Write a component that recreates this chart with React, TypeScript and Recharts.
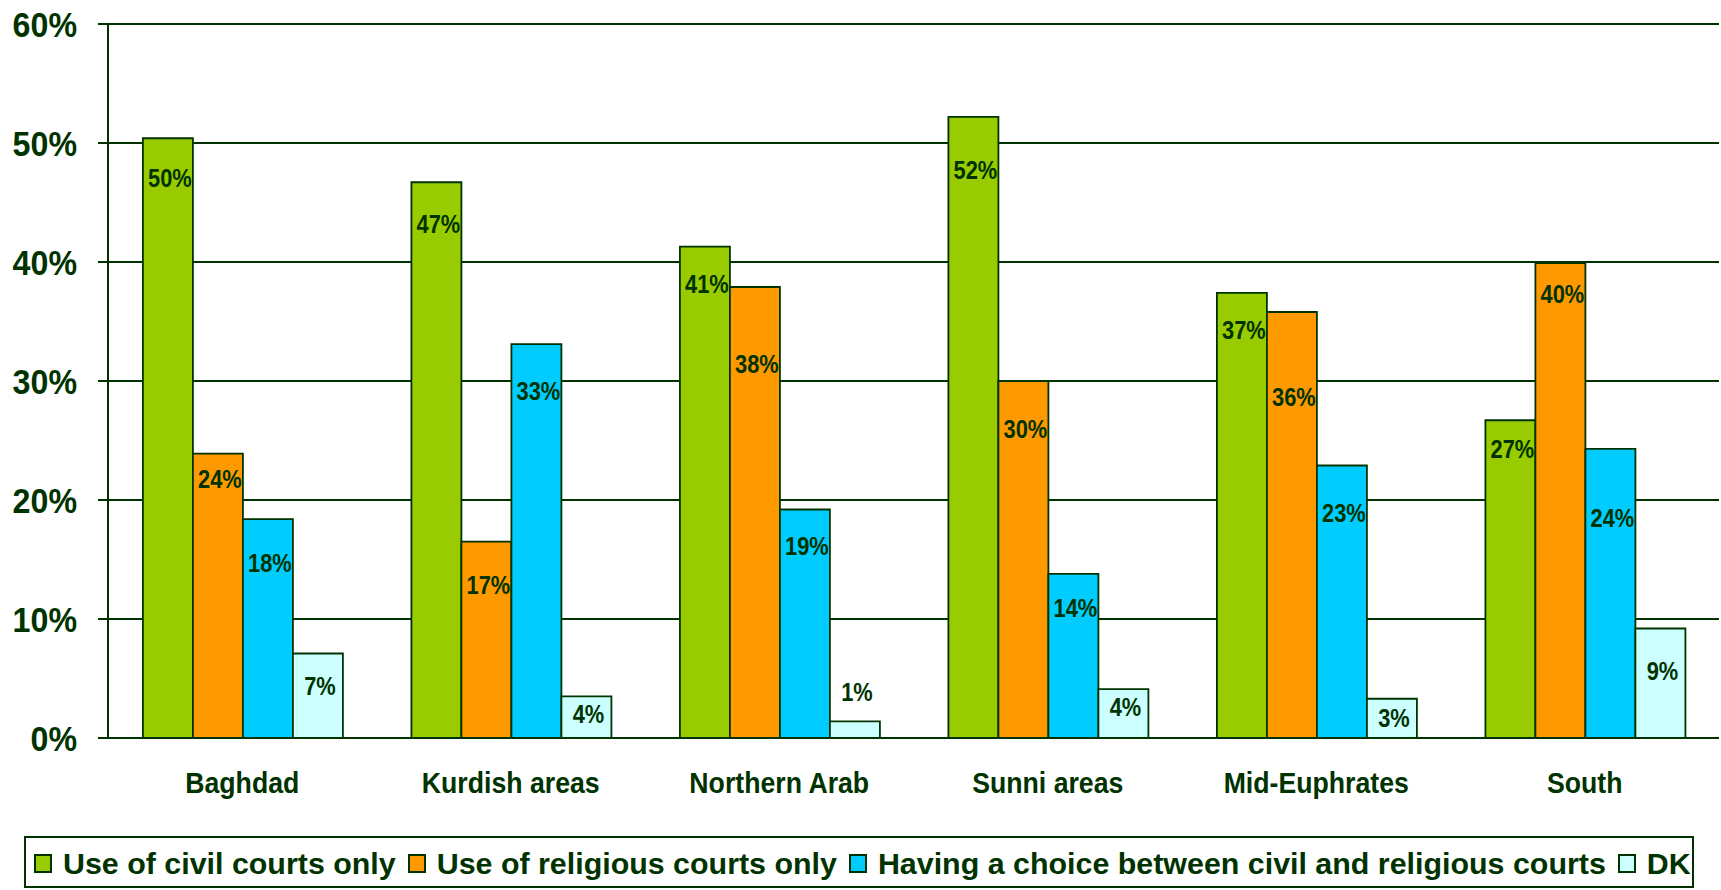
import React from "react";
import {
  Bar,
  BarChart,
  CartesianGrid,
  LabelList,
  Legend,
  ReferenceLine,
  XAxis,
  YAxis,
} from "recharts";

const categories = ["Baghdad", "Kurdish areas", "Northern Arab", "Sunni areas", "Mid-Euphrates", "South"];
const civilOnly = [50.4, 46.7, 41.3, 52.2, 37.4, 26.7];
const religiousOnly = [23.9, 16.5, 37.9, 30.0, 35.8, 39.9];
const choice = [18.4, 33.1, 19.2, 13.8, 22.9, 24.3];
const dontKnow = [7.1, 3.5, 1.4, 4.1, 3.3, 9.2];
const yTicks = [0, 10, 20, 30, 40, 50, 60];
const boundaryTicks = [0, 1, 2, 3, 4, 5, 6];
const seriesOrder = ["civil", "religious", "choice", "dk"];

// how far each value label sits below its bar top (px), as placed in the original
const dropCivil = [39, 41, 37, 53, 37, 28];
const dropReligious = [25, 43, 77, 48, 85, 30];
const dropChoice = [44, 47, 36, 34, 47, 69];
const dropDk = [32, 17, -30, 17, 19, 42];

const FONT = "'Liberation Sans', Arial, Helvetica, sans-serif";
const INK = "#003300";

const data = categories.map((name, i) => ({
  name,
  civil: civilOnly[i],
  religious: religiousOnly[i],
  choice: choice[i],
  dk: dontKnow[i],
}));

function valueLabel(drops: number[]) {
  return (props: any) => {
    const vb = props.viewBox ?? {};
    const x = props.x ?? vb.x;
    const y = props.y ?? vb.y;
    const width = props.width ?? vb.width;
    const idx = props.index ?? 0;
    const cx = x + width / 2 + 2;
    const base = y + drops[idx] + 26 * 0.36;
    return (
      <text
        transform={`translate(${cx},${base}) scale(0.84,1)`}
        textAnchor="middle"
        fontFamily={FONT}
        fontWeight="bold"
        fontSize={26}
        fill={INK}
      >
        {Math.round(props.value)}%
      </text>
    );
  };
}

function YTick(props: any) {
  const { x, y, payload } = props;
  return (
    <text
      transform={`translate(${x},${y + 35 * 0.36}) scale(0.92,1)`}
      textAnchor="end"
      fontFamily={FONT}
      fontWeight="bold"
      fontSize={35}
      fill={INK}
    >
      {payload.value}%
    </text>
  );
}

function XTick(props: any) {
  const { x, y, payload } = props;
  return (
    <text
      transform={`translate(${x},${y + 55}) scale(0.92,1)`}
      textAnchor="middle"
      fontFamily={FONT}
      fontWeight="bold"
      fontSize={29}
      fill={INK}
    >
      {payload.value}
    </text>
  );
}

function LegendBox({ payload }: any) {
  const items = [...(payload ?? [])].sort(
    (a: any, b: any) => seriesOrder.indexOf(a.dataKey) - seriesOrder.indexOf(b.dataKey)
  );
  return (
    <div
      style={{
        boxSizing: "border-box",
        width: 1670,
        height: 52,
        border: `2px solid ${INK}`,
        display: "flex",
        alignItems: "center",
        paddingLeft: 8,
        paddingTop: 3,
        fontFamily: FONT,
        fontWeight: "bold",
        fontSize: 30.4,
        color: INK,
        whiteSpace: "nowrap",
        background: "#fff",
      }}
    >
      {items.map((p: any, i: number) => (
        <span key={i} style={{ display: "flex", alignItems: "center", marginRight: 12 }}>
          <span
            style={{
              boxSizing: "border-box",
              display: "inline-block",
              width: 18,
              height: 19,
              border: `2px solid ${INK}`,
              background: p.color,
              marginRight: 11,
            }}
          />
          <span>{p.value}</span>
        </span>
      ))}
    </div>
  );
}

export default function App() {
  return (
    <div style={{ position: "absolute", left: 0, top: 0, width: 1721, height: 890, background: "#fff" }}>
      <BarChart
        width={1721}
        height={890}
        data={data}
        margin={{ top: 24, right: 2, left: 0, bottom: 92 }}
        barCategoryGap="13%"
        barGap={0}
      >
        <CartesianGrid vertical={false} stroke={INK} strokeWidth={2} />
        <XAxis
          xAxisId="bound"
          type="number"
          domain={[0, 6]}
          ticks={boundaryTicks}
          height={0}
          tick={false}
          tickSize={10}
          tickLine={{ stroke: INK, strokeWidth: 2 }}
          axisLine={false}
        />
        <XAxis
          dataKey="name"
          height={60}
          tickLine={false}
          tickSize={0}
          tickMargin={0}
          axisLine={{ stroke: INK, strokeWidth: 2 }}
          tick={<XTick />}
          interval={0}
        />
        <YAxis
          width={108}
          domain={[0, 60]}
          ticks={yTicks}
          tickSize={10}
          tickMargin={21}
          tickLine={{ stroke: INK, strokeWidth: 2 }}
          axisLine={{ stroke: INK, strokeWidth: 2 }}
          tick={<YTick />}
        />
        <ReferenceLine xAxisId="bound" x={6} stroke={INK} strokeWidth={2} />
        <Legend
          layout="horizontal"
          verticalAlign="middle"
          align="center"
          wrapperStyle={{ left: 24, top: 836, width: 1670, height: 52 }}
          content={<LegendBox />}
        />
        <Bar dataKey="civil" name="Use of civil courts only" fill="#99CC00" stroke={INK} strokeWidth={1.8} isAnimationActive={false}>
          <LabelList dataKey="civil" content={valueLabel(dropCivil)} />
        </Bar>
        <Bar dataKey="religious" name="Use of religious courts only" fill="#FF9900" stroke={INK} strokeWidth={1.8} isAnimationActive={false}>
          <LabelList dataKey="religious" content={valueLabel(dropReligious)} />
        </Bar>
        <Bar dataKey="choice" name="Having a choice between civil and religious courts" fill="#00CCFF" stroke={INK} strokeWidth={1.8} isAnimationActive={false}>
          <LabelList dataKey="choice" content={valueLabel(dropChoice)} />
        </Bar>
        <Bar dataKey="dk" name="DK" fill="#CCFFFF" stroke={INK} strokeWidth={1.8} isAnimationActive={false}>
          <LabelList dataKey="dk" content={valueLabel(dropDk)} />
        </Bar>
      </BarChart>
    </div>
  );
}
